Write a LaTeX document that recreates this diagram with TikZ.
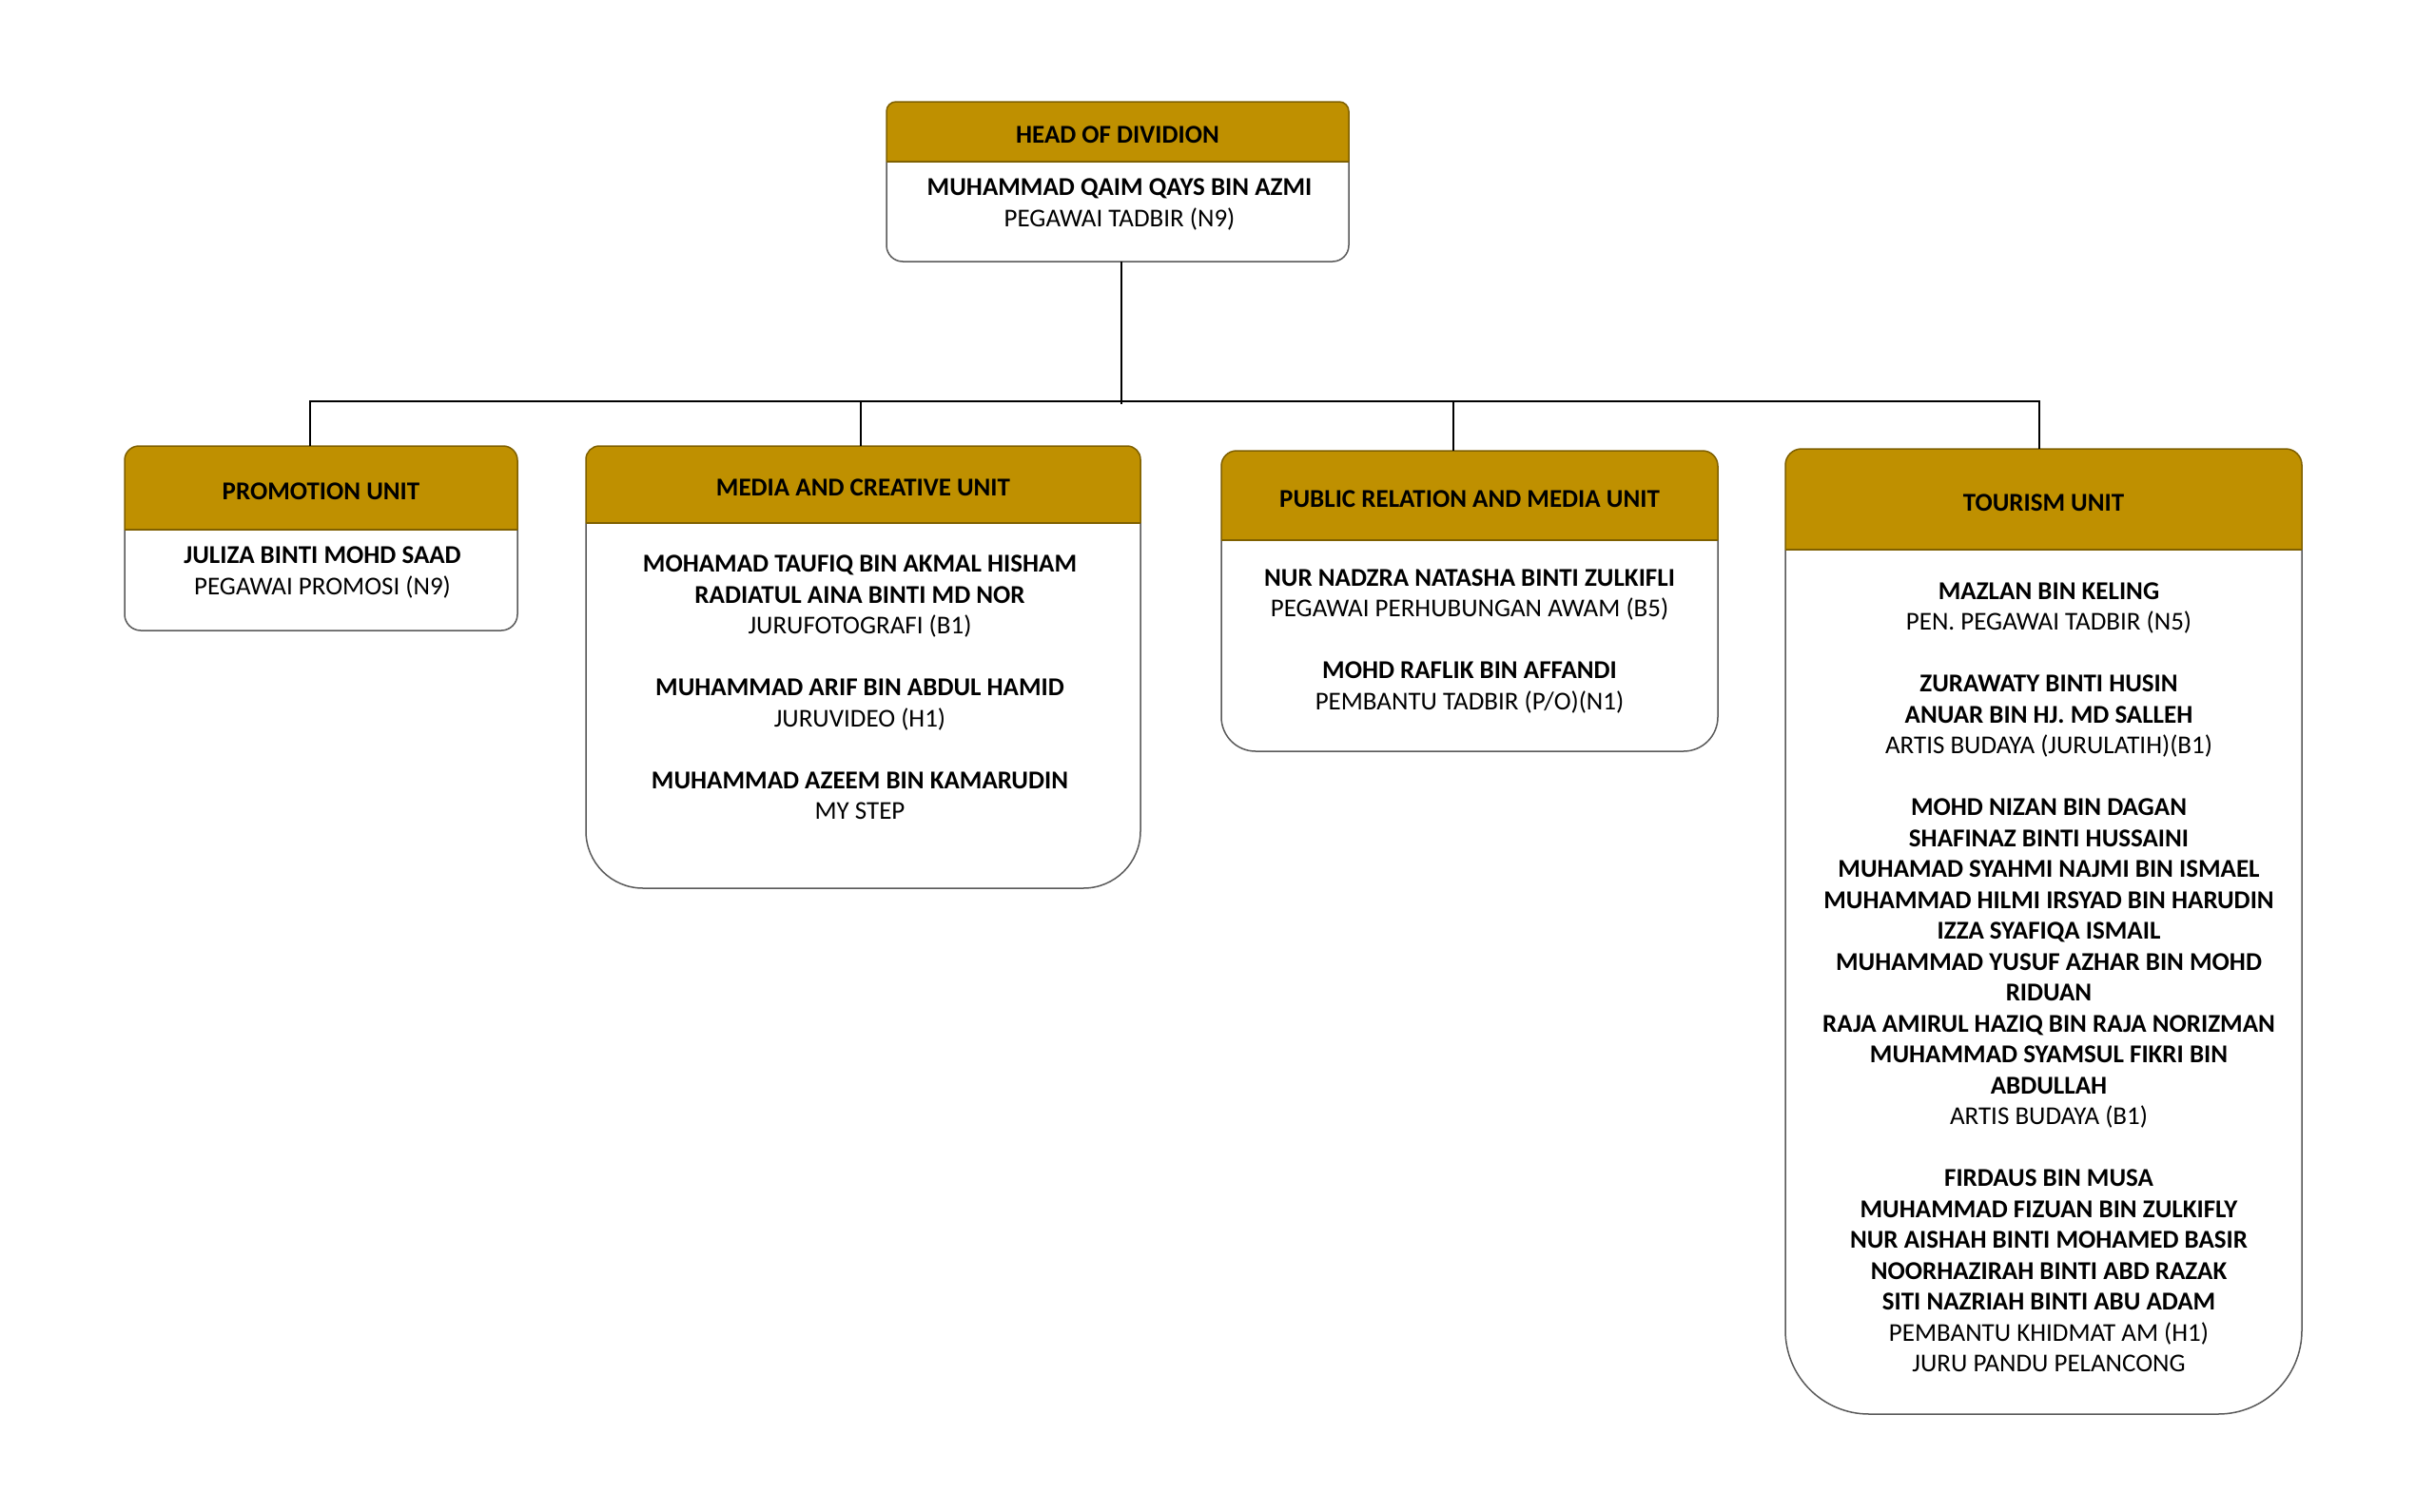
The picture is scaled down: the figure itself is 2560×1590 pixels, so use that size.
\documentclass[tikz,border=0pt]{standalone}
\usepackage{fontspec}
\setmainfont{Carlito}
\usetikzlibrary{positioning,backgrounds}

\definecolor{unitgold}{RGB}{191,144,0}
\definecolor{goldedge}{RGB}{127,96,0}
\definecolor{boxedge}{RGB}{89,89,89}

\tikzset{
  headbox/.style={rectangle, inner sep=0pt, outer sep=0pt, text height=24pt, text depth=0pt,
    font=\fontsize{27}{32.5}\selectfont\bfseries},
  bodybox/.style={rectangle, inner sep=0pt, outer sep=0pt},
  staff/.style={align=center, inner sep=0pt, font=\fontsize{27}{32.5}\selectfont},
  link/.style={draw=black, line width=2pt},
}

% #1 header node, #2 body node, #3 top radius, #4 bottom radius
\newcommand{\unitframe}[4]{%
  \filldraw[fill=unitgold, draw=goldedge, line width=1.5pt, rounded corners=#3]
    (#1.south west) -- (#1.north west) -- (#1.north east) -- (#1.south east);
  \draw[boxedge, line width=1.5pt, rounded corners=#4]
    (#1.south east) -- (#2.south east) -- (#2.south west) -- (#1.south west);
  \draw[goldedge, line width=1.5pt] (#1.south west) -- (#1.south east);
}

\begin{document}
\begin{tikzpicture}[x=1pt,y=1pt,yscale=-1,xscale=1]
\path[use as bounding box] (0,0) rectangle (2560,1590);

%Head of division
\node[headbox, minimum width=486pt, minimum height=63pt] (divHead) at (1175,138.5) {HEAD OF DIVIDION};
\node[bodybox, minimum width=486pt, minimum height=105pt, below=0pt of divHead] (divBody) {};
\node[staff] (divStaff) at (1177,215) {\textbf{MUHAMMAD QAIM QAYS BIN AZMI}\\PEGAWAI TADBIR (N9)};

%Promotion unit
\node[headbox, minimum width=413pt, minimum height=88pt] (promoHead) at (337.5,513) {PROMOTION UNIT};
\node[bodybox, minimum width=413pt, minimum height=106pt, below=0pt of promoHead] (promoBody) {};
\node[staff] (promoStaff) at (339,602) {\textbf{JULIZA BINTI MOHD SAAD}\\PEGAWAI PROMOSI (N9)};

%Media and creative unit
\node[headbox, minimum width=583pt, minimum height=81pt] (mediaHead) at (907.5,509.5) {MEDIA AND CREATIVE UNIT};
\node[bodybox, minimum width=583pt, minimum height=384pt, below=0pt of mediaHead] (mediaBody) {};
\node[staff] (mediaStaff) at (904,723) {\textbf{MOHAMAD TAUFIQ BIN AKMAL HISHAM}\\
  \textbf{RADIATUL AINA BINTI MD NOR}\\
  JURUFOTOGRAFI (B1)\\[32.5pt]
  \textbf{MUHAMMAD ARIF BIN ABDUL HAMID}\\
  JURUVIDEO (H1)\\[32.5pt]
  \textbf{MUHAMMAD AZEEM BIN KAMARUDIN}\\
  MY STEP};

%Public relation and media unit
\node[headbox, minimum width=522pt, minimum height=94pt] (prHead) at (1545,521) {PUBLIC RELATION AND MEDIA UNIT};
\node[bodybox, minimum width=522pt, minimum height=222pt, below=0pt of prHead] (prBody) {};
\node[staff] (prStaff) at (1545,674.5) {\textbf{NUR NADZRA NATASHA BINTI ZULKIFLI}\\
  PEGAWAI PERHUBUNGAN AWAM (B5)\\[32.5pt]
  \textbf{MOHD RAFLIK BIN AFFANDI}\\
  PEMBANTU TADBIR (P/O)(N1)};

%Tourism unit
\node[headbox, minimum width=543pt, minimum height=106pt] (tourHead) at (2148.5,525) {TOURISM UNIT};
\node[bodybox, minimum width=543pt, minimum height=909pt, below=0pt of tourHead] (tourBody) {};
\node[staff] (tourStaff) at (2154,1027.5) {\textbf{MAZLAN BIN KELING}\\
  PEN. PEGAWAI TADBIR (N5)\\[32.5pt]
  \textbf{ZURAWATY BINTI HUSIN}\\
  \textbf{ANUAR BIN HJ. MD SALLEH}\\
  ARTIS BUDAYA (JURULATIH)(B1)\\[32.5pt]
  \textbf{MOHD NIZAN BIN DAGAN}\\
  \textbf{SHAFINAZ BINTI HUSSAINI}\\
  \textbf{MUHAMAD SYAHMI NAJMI BIN ISMAEL}\\
  \textbf{MUHAMMAD HILMI IRSYAD BIN HARUDIN}\\
  \textbf{IZZA SYAFIQA ISMAIL}\\
  \textbf{MUHAMMAD YUSUF AZHAR BIN MOHD}\\
  \textbf{RIDUAN}\\
  \textbf{RAJA AMIRUL HAZIQ BIN RAJA NORIZMAN}\\
  \textbf{MUHAMMAD SYAMSUL FIKRI BIN}\\
  \textbf{ABDULLAH}\\
  ARTIS BUDAYA (B1)\\[32.5pt]
  \textbf{FIRDAUS BIN MUSA}\\
  \textbf{MUHAMMAD FIZUAN BIN ZULKIFLY}\\
  \textbf{NUR AISHAH BINTI MOHAMED BASIR}\\
  \textbf{NOORHAZIRAH BINTI ABD RAZAK}\\
  \textbf{SITI NAZRIAH BINTI ABU ADAM}\\
  PEMBANTU KHIDMAT AM (H1)\\
  JURU PANDU PELANCONG};

%Frames
\begin{scope}[on background layer]
\unitframe{divHead}{divBody}{10pt}{17pt}
\unitframe{promoHead}{promoBody}{15pt}{17pt}
\unitframe{mediaHead}{mediaBody}{14pt}{60pt}
\unitframe{prHead}{prBody}{16pt}{36pt}
\unitframe{tourHead}{tourBody}{17pt}{88pt}
\end{scope}

%Connectors
\coordinate (bus) at (1179,422);
\draw[link] ([xshift=4pt]divBody.south) -- ([yshift=3pt]bus);
\draw[link] ([xshift=-11.5pt]promoHead.north) |- (bus);
\draw[link] ([xshift=-4.5pt]tourHead.north) |- (bus);
\draw[link] ([xshift=-2.5pt]mediaHead.north) -- ([xshift=-2.5pt]mediaHead.north |- bus);
\draw[link] ([xshift=-17pt]prHead.north) -- ([xshift=-17pt]prHead.north |- bus);

\end{tikzpicture}
\end{document}
